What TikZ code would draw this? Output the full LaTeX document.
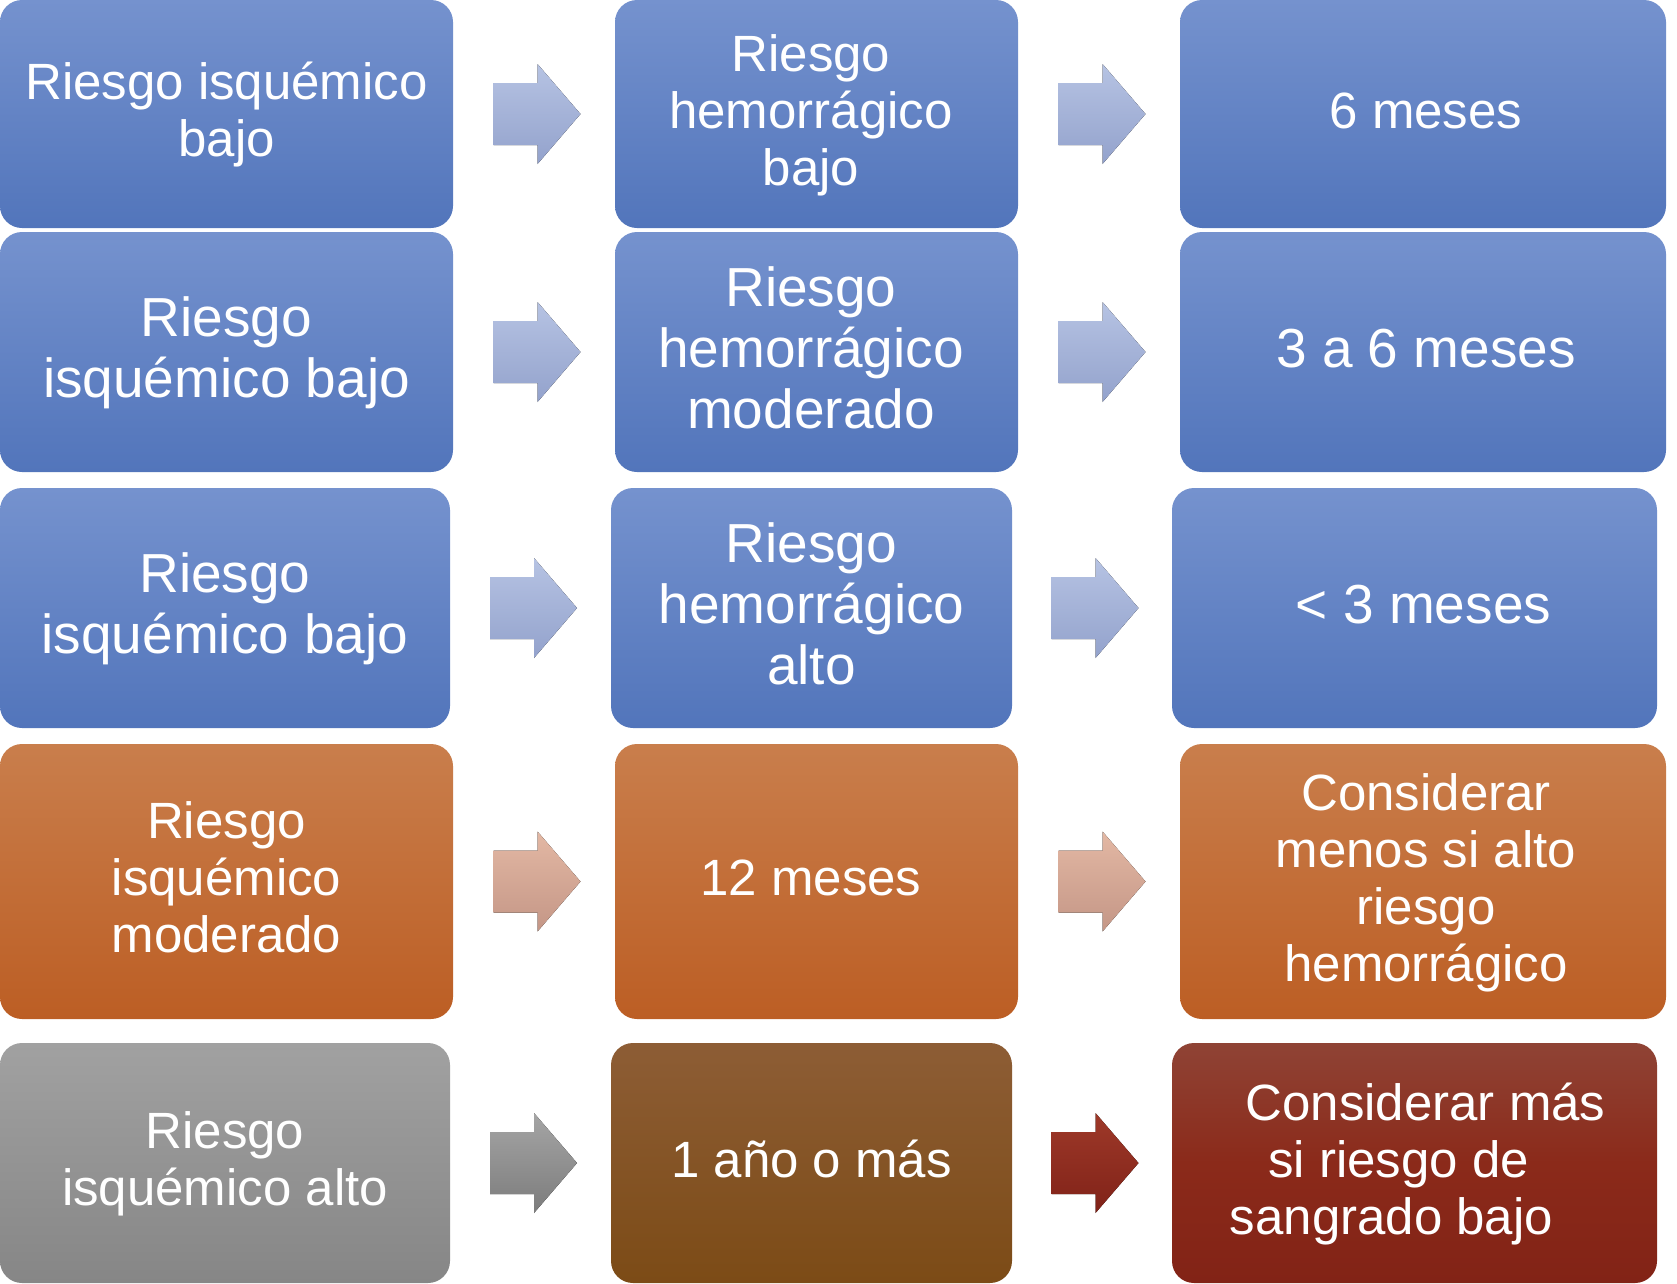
\documentclass[tikz,border=0pt]{standalone}
\usepackage{fontspec}
\setmainfont{Liberation Sans}
\usetikzlibrary{calc}
\definecolor{bT}{RGB}{117,146,206}
\definecolor{bB}{RGB}{82,117,187}
\definecolor{oT}{RGB}{201,126,76}
\definecolor{oB}{RGB}{188,94,36}
\definecolor{gT}{RGB}{161,161,161}
\definecolor{gB}{RGB}{134,134,134}
\definecolor{brT}{RGB}{141,93,53}
\definecolor{brB}{RGB}{124,75,22}
\definecolor{rT}{RGB}{143,67,53}
\definecolor{rM}{RGB}{139,42,26}
\definecolor{rB}{RGB}{130,35,22}
\definecolor{abT}{RGB}{182,195,227}
\definecolor{abB}{RGB}{147,162,204}
\definecolor{aoT}{RGB}{227,184,164}
\definecolor{aoB}{RGB}{196,150,134}
\definecolor{agT}{RGB}{165,165,165}
\definecolor{agB}{RGB}{124,124,124}
\definecolor{arT}{RGB}{158,57,41}
\definecolor{arB}{RGB}{128,34,24}
% #1: twice the horizontal shift, #2: lines
\newcommand{\boxtxt}[2][0pt]{\hbox{\hspace{#1}\raisebox{-3pt}[\height][\depth]{\begin{tabular}{@{}c@{}}#2\end{tabular}}}}
\tikzset{
  box/.style={rounded corners=22pt, inner sep=0pt, text=white, align=center},
  bluebox/.style={box, top color=bT, bottom color=bB},
  orangebox/.style={box, top color=oT, bottom color=oB},
  graybox/.style={box, top color=gT, bottom color=gB},
  brownbox/.style={box, top color=brT, bottom color=brB},
  redbox/.style={box, top color=rT, bottom color=rB, middle color=rM},
  sm/.style={font=\fontsize{51}{57}\selectfont},
  lg/.style={font=\fontsize{55}{61}\selectfont},
  pics/barrow/.style 2 args={code={
    \fill[top color=#1, bottom color=#2] (-40.5,-31) -- (3.5,-31) -- (3.5,-50) -- (46.5,0)
      -- (3.5,50) -- (3.5,31) -- (-40.5,31) -- cycle;}}
}
\begin{document}
\begin{tikzpicture}[x=1pt,y=-1pt]
\useasboundingbox (0,0) rectangle (1677,1283);
% row 1
\node[bluebox, sm, minimum width=453pt, minimum height=228pt] (r1a) at (226.5,114) {\boxtxt{Riesgo isquémico\\bajo}};
\node[bluebox, sm, minimum width=403pt, minimum height=228pt] (r1b) at (816.5,114) {\boxtxt[-11pt]{Riesgo\\hemorrágico\\bajo}};
\node[bluebox, sm, minimum width=486pt, minimum height=228pt] (r1c) at (1423,114) {\boxtxt[6pt]{6 meses}};
% row 2
\node[bluebox, lg, minimum width=453pt, minimum height=240pt] (r2a) at (226.5,352) {\boxtxt{Riesgo\\isquémico bajo}};
\node[bluebox, lg, minimum width=403pt, minimum height=240pt] (r2b) at (816.5,352) {\boxtxt[-11pt]{Riesgo\\hemorrágico\\moderado}};
\node[bluebox, lg, minimum width=486pt, minimum height=240pt] (r2c) at (1423,352) {\boxtxt[6pt]{3 a 6 meses}};
% row 3
\node[bluebox, lg, minimum width=450pt, minimum height=240pt] (r3a) at (225,608) {\boxtxt{Riesgo\\isquémico bajo}};
\node[bluebox, lg, minimum width=401pt, minimum height=240pt] (r3b) at (811.5,608) {\boxtxt{Riesgo\\hemorrágico\\alto}};
\node[bluebox, lg, minimum width=485pt, minimum height=240pt] (r3c) at (1414.5,608) {\boxtxt[18pt]{< 3 meses}};
% row 4
\node[orangebox, sm, minimum width=453pt, minimum height=275pt] (r4a) at (226.5,881.5) {\boxtxt{Riesgo\\isquémico\\moderado}};
\node[orangebox, sm, minimum width=403pt, minimum height=275pt] (r4b) at (816.5,881.5) {\boxtxt[-11pt]{12 meses}};
\node[orangebox, sm, minimum width=486pt, minimum height=275pt] (r4c) at (1423,881.5) {\boxtxt[6pt]{Considerar\\menos si alto\\riesgo\\hemorrágico}};
% row 5
\node[graybox, sm, minimum width=450pt, minimum height=240pt] (r5a) at (225,1163) {\boxtxt{Riesgo\\isquémico alto}};
\node[brownbox, sm, minimum width=401pt, minimum height=240pt] (r5b) at (811.5,1163) {\boxtxt{1 año o más}};
\node[redbox, sm, minimum width=485pt, minimum height=240pt] (r5c) at (1414.5,1163) {\boxtxt{\hbox{\hspace{22pt}Considerar más}\\\hbox{si riesgo de\hspace{32pt}}\\\hbox{sangrado bajo\hspace{46pt}}}};
% arrows
\pic at ($(r1a.east)!0.5!(r1b.west)$) {barrow={abT}{abB}};
\pic at ($(r1b.east)!0.5!(r1c.west)$) {barrow={abT}{abB}};
\pic at ($(r2a.east)!0.5!(r2b.west)$) {barrow={abT}{abB}};
\pic at ($(r2b.east)!0.5!(r2c.west)$) {barrow={abT}{abB}};
\pic at ($(r3a.east)!0.5!(r3b.west)$) {barrow={abT}{abB}};
\pic at ($(r3b.east)!0.5!(r3c.west)$) {barrow={abT}{abB}};
\pic at ($(r4a.east)!0.5!(r4b.west)$) {barrow={aoT}{aoB}};
\pic at ($(r4b.east)!0.5!(r4c.west)$) {barrow={aoT}{aoB}};
\pic at ($(r5a.east)!0.5!(r5b.west)$) {barrow={agT}{agB}};
\pic at ($(r5b.east)!0.5!(r5c.west)$) {barrow={arT}{arB}};
\end{tikzpicture}
\end{document}
